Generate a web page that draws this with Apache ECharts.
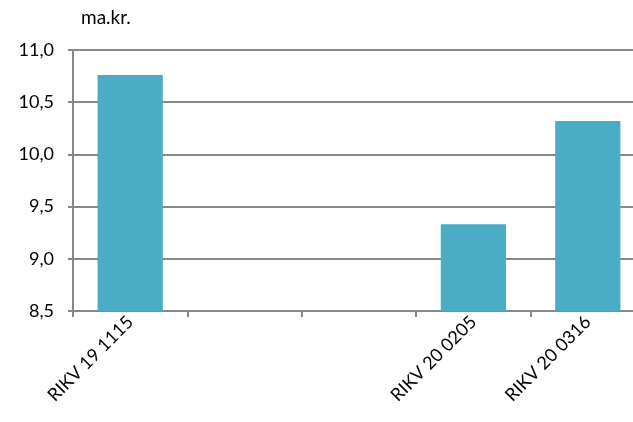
<!DOCTYPE html>
<html>
<head>
<meta charset="utf-8">
<script src="https://cdn.jsdelivr.net/npm/echarts@6/dist/echarts.min.js"></script>
<style>
  html, body { margin: 0; padding: 0; background: #fff; width: 633px; height: 422px; overflow: hidden; }
  /* the plot runs past the right edge of the picture, as in the original */
  #chart { width: 645px; height: 422px; }
</style>
</head>
<body>
<div id="chart"></div>
<script>
// categories (empty slots are unnamed positions on the axis)
var categories = ['RIKV 19 1115', '', '', 'RIKV 20 0205', 'RIKV 20 0316'];
// values in ma.kr.
var values = [10.76, '-', '-', 9.33, 10.32];

var chart = echarts.init(document.getElementById('chart'));
var font = 'Lato, "Open Sans", sans-serif';

chart.setOption({
  animation: false,
  title: {
    text: 'ma.kr.',
    left: 76,
    top: 3,
    textStyle: { fontFamily: font, fontSize: 19, fontWeight: 'normal', color: '#000' }
  },
  grid: { left: 73, right: 0, top: 50, height: 261, containLabel: false, outerBoundsMode: 'none' },
  xAxis: {
    type: 'category',
    data: categories,
    axisLine: { lineStyle: { color: '#888', width: 2 } },
    axisTick: { show: true, length: 6, lineStyle: { color: '#888', width: 2 } },
    axisLabel: {
      rotate: 45,
      interval: 0,
      margin: 8,
      fontFamily: font,
      fontSize: 18,
      color: '#000'
    }
  },
  yAxis: {
    type: 'value',
    min: 8.5,
    max: 11,
    interval: 0.5,
    axisLine: { show: true, lineStyle: { color: '#888', width: 2 } },
    axisTick: { show: true, length: 5, lineStyle: { color: '#888', width: 2 } },
    splitLine: { lineStyle: { color: '#888', width: 2 } },
    axisLabel: {
      margin: 19,
      fontFamily: font,
      fontSize: 18,
      color: '#000',
      formatter: function (v) { return v.toFixed(1).replace('.', ','); }
    }
  },
  series: [{
    type: 'bar',
    data: values,
    barWidth: '57%',
    itemStyle: { color: '#4BACC6' }
  }]
});
</script>
</body>
</html>
